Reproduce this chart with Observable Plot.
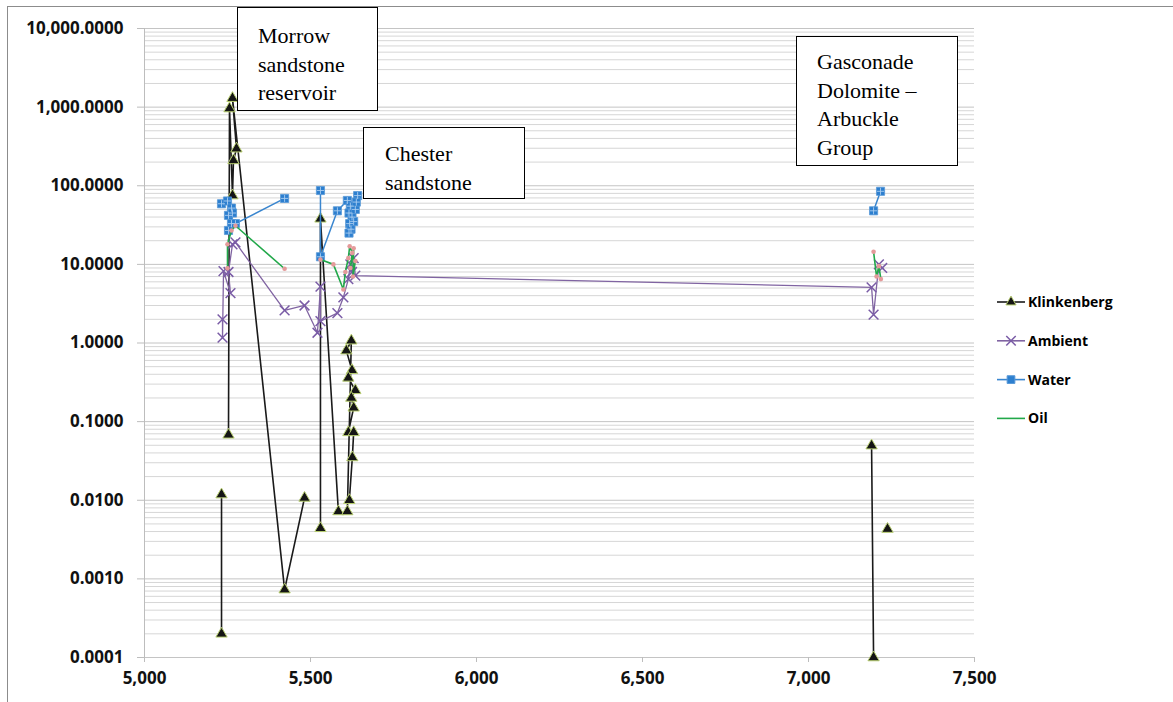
<!DOCTYPE html>
<html><head><meta charset="utf-8">
<script src="https://cdn.jsdelivr.net/npm/d3@7"></script>
<script src="https://cdn.jsdelivr.net/npm/@observablehq/plot@0.6"></script>
<style>
body{margin:0;background:#fff;}
#wrap{position:relative;width:1173px;height:702px;overflow:hidden;background:#fff;}
#chart{position:absolute;left:0;top:0;}
.frame{position:absolute;left:7px;top:6px;width:1300px;height:900px;border-left:1.5px solid #8c8c8c;border-top:1.5px solid #8c8c8c;pointer-events:none;}
.note{position:absolute;background:#fff;border:1.5px solid #000;font-family:"Liberation Serif","Times New Roman",serif;font-size:22px;line-height:28.5px;color:#000;box-sizing:border-box;white-space:nowrap;}
#legend{position:absolute;left:995px;top:288px;font-family:"Open Sans",sans-serif;font-weight:700;font-size:14px;color:#000;}
</style>
</head><body>
<div id="wrap">
  <div class="frame"></div>
  <div id="chart"></div>
  <div class="note" style="left:237px;top:7px;width:141px;height:104px;padding:14px 0 0 20px;">Morrow<br>sandstone<br>reservoir</div>
  <div class="note" style="left:363px;top:127px;width:162px;height:72px;padding:12px 0 0 21px;">Chester<br>sandstone</div>
  <div class="note" style="left:796px;top:36px;width:162px;height:130px;padding:11px 0 0 20px;">Gasconade<br>Dolomite –<br>Arbuckle<br>Group</div>
  <svg id="legend" width="178" height="150"></svg>
</div>
<script>
// ---- data (depth in ft, permeability in mD); null separates line segments ----
const seriesNames = ["Klinkenberg", "Ambient", "Water", "Oil"];
const seriesColors = ["#1a1a1a", "#8064a2", "#3a86cf", "#22a84a"];

const klinkDepth = [5232, 5232, null, 5253, 5256, 5265, 5268, 5277, 5265, 5422, 5482, null,
  5530, 5530, 5584, null,
  5611, 5623, 5608, 5625, 5614, 5635, 5623, 5630, 5614, 5630, 5626, 5617, null,
  7190, 7196, null, 7238];
const klinkValue = [0.0118, 0.0002, null, 0.068, 960, 75, 210, 296, 1300, 0.00073, 0.0107, null,
  0.0044, 38, 0.0072, null,
  0.0072, 1.07, 0.8, 0.45, 0.36, 0.25, 0.2, 0.15, 0.073, 0.073, 0.035, 0.01, null,
  0.0495, 0.0001, null, 0.0043];

const ambientDepth = [5235, 5235, 5238, 5259, 5253, 5265, 5274, 5422, 5482, 5521, 5530, 5530,
  5581, 5599, 5614, 5620, 5625, 5630, 5635, 7190, 7196, 7212, 7222];
const ambientValue = [2.0, 1.17, 8.2, 4.3, 8.0, 18, 19, 2.6, 3.0, 1.35, 5.2, 1.9,
  2.4, 3.8, 6.5, 10, 8, 12, 7.2, 5.1, 2.3, 10, 9];

const waterDepth = [5232, 5250, 5262, 5253, 5265, 5262, 5253, 5274, 5422, null,
  5530, 5530, 5581, 5611, 5620, 5616, 5625, 5618, 5622, 5616, 5630, 5635, 5642, 5638, null,
  7196, 7217];
const waterValue = [59, 64, 52, 42, 45, 33, 27, 33, 69, null,
  87, 12.5, 48, 65, 55, 45, 40, 33, 28, 25, 35, 50, 75, 62, null,
  48, 85];

const oilDepth = [5250, 5250, 5262, 5274, 5422, null,
  5530, 5569, 5599, 5605, 5614, 5618, 5626, 5620, 5630, 5628, 5635, null,
  7196, 7205, 7212, 7218];
const oilValue = [8.9, 18, 27, 31, 8.8, null,
  11.5, 10, 4.8, 8, 12, 17, 14, 9, 16, 7, 11, null,
  14.5, 7, 9.5, 6.5];

const xTicks = [5000, 5500, 6000, 6500, 7000, 7500];
const yTicks = [0.0001, 0.001, 0.01, 0.1, 1, 10, 100, 1000, 10000];

// ---- build tables ----
const toRows = (ds, vs) => ds.map((d, i) => ({depth: d, value: vs[i]}));
const klink = toRows(klinkDepth, klinkValue);
const ambient = toRows(ambientDepth, ambientValue);
const water = toRows(waterDepth, waterValue);
const oil = toRows(oilDepth, oilValue);
const pts = rows => rows.filter(r => r.value != null);

const minorTicks = [];
yTicks.slice(0, -1).forEach(t => { for (let k = 2; k <= 9; k++) minorTicks.push(t * k); });

const chart = Plot.plot({
  width: 1173, height: 702,
  marginLeft: 144, marginRight: 199, marginTop: 28, marginBottom: 45,
  x: {domain: [5000, 7500]},
  y: {type: "log", domain: [1e-4, 1e4]},
  style: {fontFamily: "Open Sans", fontSize: "17px", fontWeight: "bold", color: "#111", background: "transparent", overflow: "visible"},
  marks: [
    Plot.gridY(minorTicks, {stroke: "#d6d6d6", strokeOpacity: 1}),
    Plot.gridY(yTicks, {stroke: "#c4c4c4", strokeOpacity: 1}),
    Plot.ruleX([5000], {stroke: "#bdbdbd"}),
    Plot.axisY(yTicks, {tickSize: 7, tickPadding: 14, tickFormat: d3.format(",.4f"), stroke: "#bdbdbd", label: null}),
    Plot.axisX(xTicks, {tickSize: 5, tickPadding: 9, tickFormat: d3.format(","), stroke: "#bdbdbd", label: null}),
    // Klinkenberg
    Plot.line(klink, {x: "depth", y: "value", stroke: seriesColors[0], strokeWidth: 1.6}),
    Plot.dot(pts(klink), {x: "depth", y: "value", symbol: "triangle", r: 4.2, fill: "#151515", stroke: "#b9cf72", strokeWidth: 1}),
    // Ambient
    Plot.line(ambient, {x: "depth", y: "value", stroke: seriesColors[1], strokeWidth: 1.3}),
    Plot.dot(pts(ambient), {x: "depth", y: "value", symbol: "times", r: 4.5, stroke: "#7a5ca6", strokeWidth: 1.5}),
    // Water
    Plot.line(water, {x: "depth", y: "value", stroke: seriesColors[2], strokeWidth: 1.5}),
    Plot.dot(pts(water), {x: "depth", y: "value", symbol: "square", r: 4.6, fill: "#2d7fcf", stroke: "#5a9ad8", strokeWidth: 0.8}),
    Plot.dot(pts(water), {x: "depth", y: "value", symbol: "plus", r: 2.4, stroke: "#a9cdf1", strokeWidth: 0.9}),
    // Oil
    Plot.line(oil, {x: "depth", y: "value", stroke: seriesColors[3], strokeWidth: 1.6}),
    Plot.dot(pts(oil), {x: "depth", y: "value", r: 2.3, fill: "#e49a9a", stroke: "none"})
  ]
});
document.getElementById("chart").appendChild(chart);

// ---- legend ----
const lg = d3.select("#legend");
const symbols = [d3.symbolTriangle, d3.symbolTimes, d3.symbolSquare, null];
const markerFill = ["#151515", "none", "#2d7fcf", null];
const markerStroke = ["#b9cf72", "#7a5ca6", "#5a9ad8", null];
seriesNames.forEach((name, i) => {
  const cy = 14 + i * 38.8;
  const g = lg.append("g").attr("transform", `translate(0,${cy})`);
  g.append("line").attr("x1", 2).attr("x2", 30).attr("y1", 0).attr("y2", 0)
    .attr("stroke", seriesColors[i]).attr("stroke-width", 1.6);
  if (symbols[i]) {
    g.append("path").attr("transform", "translate(16,0)")
      .attr("d", d3.symbol(symbols[i], i === 0 ? 45 : 60)())
      .attr("fill", markerFill[i]).attr("stroke", markerStroke[i]).attr("stroke-width", i === 1 ? 1.5 : 1);
  }
  g.append("text").attr("x", 33).attr("y", 0).attr("dy", "0.36em").text(name);
});
</script>
</body></html>
